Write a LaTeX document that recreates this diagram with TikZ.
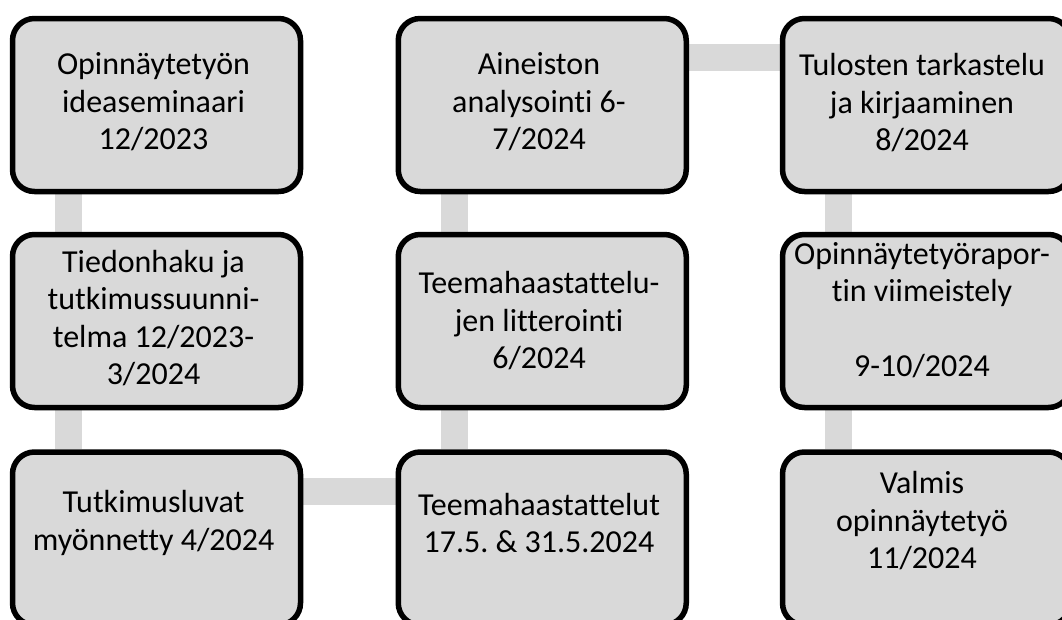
\documentclass[tikz,border=0pt]{standalone}
\usepackage{fontspec}
\setmainfont{Carlito}[Ligatures=NoCommon]
\usetikzlibrary{backgrounds}
\definecolor{boxgray}{HTML}{D9D9D9}
\frenchspacing
\begin{document}
\begin{tikzpicture}[x=1pt,y=-1pt,
  stage/.style={draw=black, line width=5.5pt, fill=boxgray, rounded corners=22pt,
    minimum width=288pt, minimum height=173pt, inner sep=0pt, anchor=north west},
  lbl/.style={align=center, font=\fontsize{32}{37.5}\selectfont, text=black, inner sep=0pt},
  bar/.style={draw=boxgray, line width=27pt}]
\useasboundingbox (0,0) rectangle (1062,619);
\clip (0,0) rectangle (1062,619);
% boxes
\node[stage] (a) at (9.75,15.75) {};
\node[stage] (b) at (9.75,231.75) {};
\node[stage] (c) at (9.75,449.25) {};
\node[stage] (d) at (395.5,449.25) {};
\node[stage] (e) at (395.5,231.75) {};
\node[stage] (f) at (395.5,15.75) {};
\node[stage] (g) at (779.75,15.75) {};
\node[stage] (h) at (779.75,231.75) {};
\node[stage] (i) at (779.75,449.25) {};
% labels
\node[lbl] (ta) at (153.5,102) {Opinnäytetyön\\ideaseminaari\\12/2023};
\node[lbl] (tb) at (153.5,318) {Tiedonhaku ja\\tutkimussuunni-\\telma 12/2023-\\3/2024};
\node[lbl] (tc) at (153.5,523) {Tutkimusluvat\\myönnetty 4/2024};
\node[lbl] (td) at (539,523) {Teemahaastattelut\\17.5.\ \&\ 31.5.2024};
\node[lbl] (te) at (539,321) {Teemahaastattelu-\\jen litterointi\\6/2024};
\node[lbl] (tf) at (539,102) {Aineiston\\analysointi 6-\\7/2024};
\node[lbl] (tg) at (922,103) {Tulosten tarkastelu\\ja kirjaaminen\\8/2024};
\node[lbl] (th) at (922,310) {Opinnäytetyörapor-\\tin viimeistely\\[37.5pt]9-10/2024};
\node[lbl] (ti) at (922,521) {Valmis\\opinnäytetyö\\11/2024};
% connector bars
\begin{pgfonlayer}{background}
\fill[white] (0,0) rectangle (1062,619);
\draw[bar] ([xshift=58.75pt]a.south west) -- ([xshift=58.75pt]b.north west);
\draw[bar] ([xshift=58.75pt]b.south west) -- ([xshift=58.75pt]c.north west);
\draw[bar] ([yshift=-41.75pt]c.north east) -- ([yshift=-41.75pt]d.north west);
\draw[bar] ([xshift=58.75pt]d.north west) -- ([xshift=58.75pt]e.south west);
\draw[bar] ([xshift=58.75pt]e.north west) -- ([xshift=58.75pt]f.south west);
\draw[bar] ([yshift=-41.75pt]f.north east) -- ([yshift=-41.75pt]g.north west);
\draw[bar] ([xshift=58.75pt]g.south west) -- ([xshift=58.75pt]h.north west);
\draw[bar] ([xshift=58.75pt]h.south west) -- ([xshift=58.75pt]i.north west);
\end{pgfonlayer}
\end{tikzpicture}
\end{document}
